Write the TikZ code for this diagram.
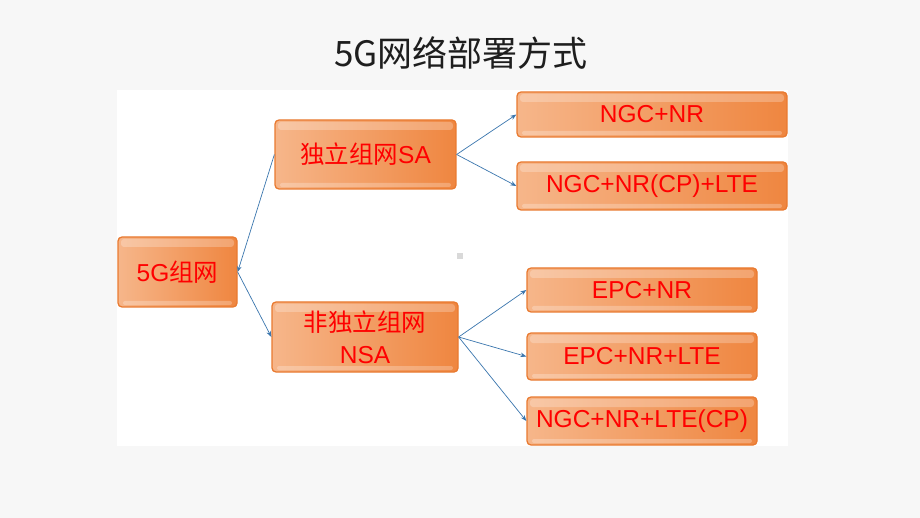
\documentclass[tikz,border=0pt]{standalone}
\usepackage{fontspec}
\setmainfont{Liberation Sans}
\newfontfamily\cjk{Noto Sans CJK SC}
\usetikzlibrary{arrows.meta}
\definecolor{pagebg}{HTML}{F7F7F7}
\definecolor{boxborder}{HTML}{E97A30}
\definecolor{boxlight}{HTML}{F6B68A}
\definecolor{boxdark}{HTML}{EF8640}
\definecolor{arrowblue}{HTML}{3A76AE}
\definecolor{titlegray}{HTML}{1E1E1E}
\begin{document}
\begin{tikzpicture}[x=1pt,y=-1pt,
  box/.style={draw=boxborder, line width=1.3pt, rounded corners=4pt,
    left color=boxlight, right color=boxdark, text=red, inner sep=0pt,
    align=center, font=\fontsize{24.5}{32}\selectfont,
    path picture={
      \fill[white,opacity=0.25,rounded corners=3pt]
        ([xshift=3pt,yshift=-2pt]path picture bounding box.north west) rectangle
        ([xshift=-3pt,yshift=-10pt]path picture bounding box.north east);
      \fill[white,opacity=0.25,rounded corners=2pt]
        ([xshift=5pt,yshift=6pt]path picture bounding box.south west) rectangle
        ([xshift=-5pt,yshift=2pt]path picture bounding box.south east);
    }},
  arr/.style={draw=arrowblue, line width=0.7pt, -{Stealth[length=6pt,width=4.5pt]}}
]
\useasboundingbox (0,0) rectangle (920,518);
\fill[pagebg] (0,0) rectangle (920,518);
\fill[white] (117,90) rectangle (788,446);
\fill[black!15] (457,253) rectangle (463,259);

\node[text=titlegray, font=\cjk\fontsize{35}{40}\selectfont] (title) at (461,53) {5G网络部署方式};

\node[box, minimum width=119pt, minimum height=70pt] (g5) at (177.5,272) {5G{\cjk 组网}};
\node[box, minimum width=181pt, minimum height=69pt] (sa) at (365.5,154.5) {{\cjk 独立组网}SA};
\node[box, minimum width=186pt, minimum height=70pt] (nsa) at (365,337) {{\cjk 非独立组网}\\NSA};

\node[box, minimum width=270pt, minimum height=45pt] (r1) at (652,114.5) {NGC+NR};
\node[box, minimum width=270pt, minimum height=48pt] (r2) at (652,186) {NGC+NR(CP)+LTE};
\node[box, minimum width=230pt, minimum height=44pt] (r3) at (642,290) {EPC+NR};
\node[box, minimum width=230pt, minimum height=47pt] (r4) at (642,356.5) {EPC+NR+LTE};
\node[box, minimum width=230pt, minimum height=48pt] (r5) at (642,421) {NGC+NR+LTE(CP)};

\draw[arr] (sa.west) -- (g5.east);
\draw[arr] (g5.east) -- (nsa.west);
\draw[arr] (sa.east) -- (r1.west);
\draw[arr] (sa.east) -- (r2.west);
\draw[arr] (nsa.east) -- (r3.west);
\draw[arr] (nsa.east) -- (r4.west);
\draw[arr] (nsa.east) -- (r5.west);
\end{tikzpicture}
\end{document}
